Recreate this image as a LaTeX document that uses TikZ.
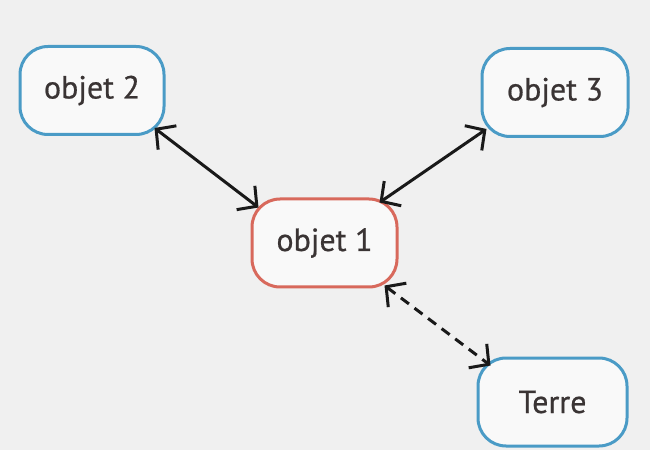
\documentclass[tikz,border=0pt]{standalone}
\usepackage{fontspec}
\setmainfont{PT Sans}
\usetikzlibrary{arrows.meta}
\definecolor{bg}{HTML}{F0F0F0}
\definecolor{boxblue}{HTML}{4A9BC6}
\definecolor{boxred}{HTML}{D8695C}
\definecolor{txt}{HTML}{3A3434}
\tikzset{
  obj/.style={draw=boxblue, line width=3pt, rounded corners=28pt, fill=white!60!bg,
    minimum width=#1, minimum height=88pt, inner sep=0pt, text=txt,
    font=\fontsize{32}{36}\selectfont\addfontfeature{FakeBold=0.6}},
  obj/.default=144pt,
  link/.style={line width=3pt, black!90, {Straight Barb[length=14pt,width=30pt,line width=3pt]}-{Straight Barb[length=14pt,width=30pt,line width=3pt]}},
  dashlink/.style={link, dash pattern=on 10pt off 7pt}
}
\begin{document}
\begin{tikzpicture}[x=1pt,y=1pt]
\fill[bg] (0,0) rectangle (650,450);
\useasboundingbox (0,0) rectangle (650,450);
\node[obj=144pt] (o2) at (92,359.5) {objet 2};
\node[obj=146pt] (o3) at (555,357.5) {objet 3};
\node[obj=145pt, draw=boxred] (o1) at (324.5,207) {objet 1};
\node[obj=149pt] (t) at (552.5,48) {Terre};
\draw[link] ([shift={(-11pt,8pt)}]o2.south east) -- ([shift={(8pt,-10pt)}]o1.north west);
\draw[link] ([shift={(6pt,9pt)}]o3.south west) -- ([shift={(-19pt,-5pt)}]o1.north east);
\draw[dashlink] ([shift={(-14pt,3pt)}]o1.south east) -- ([shift={(14pt,-9pt)}]t.north west);
\end{tikzpicture}
\end{document}
